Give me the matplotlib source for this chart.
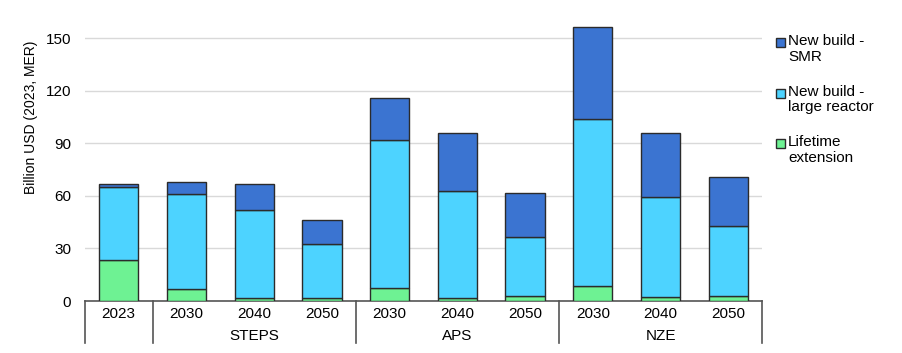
import matplotlib.pyplot as plt
from matplotlib.patches import Rectangle
import numpy as np

plt.rcParams["font.family"] = ["Liberation Sans", "DejaVu Sans"]

# Data
years = ["2023", "2030", "2040", "2050", "2030", "2040", "2050", "2030", "2040", "2050"]
groups = ["STEPS", "APS", "NZE"]
lifetime = [23.5, 7, 2, 1.5, 7.5, 2, 3, 8.5, 2.5, 3]
large_reactor = [41.5, 54, 50, 31, 84.5, 61, 33.5, 95.5, 57, 40]
smr = [1.5, 7, 14.5, 13.5, 24, 33, 25, 52, 36.5, 28]
legend_labels = ["New build -\nSMR", "New build -\nlarge reactor", "Lifetime\nextension"]

# Colours
GREEN = "#6ef293"
CYAN = "#4dd3ff"
BLUE = "#3b74d1"
EDGE = "#2b2b2b"

fig = plt.figure(figsize=(9.03, 3.53), dpi=100)
ax = fig.add_axes([0.094, 0.147, 0.750, 0.795])

x = np.arange(len(years))
w = 0.58
kw = dict(width=w, edgecolor=EDGE, linewidth=1, zorder=3)
ax.bar(x, lifetime, color=GREEN, **kw)
ax.bar(x, large_reactor, bottom=lifetime, color=CYAN, **kw)
bottom2 = np.array(lifetime) + np.array(large_reactor)
ax.bar(x, smr, bottom=bottom2, color=BLUE, **kw)

ax.set_xlim(-0.5, len(years) - 0.5)
ax.set_ylim(0, 160)
ax.set_yticks([0, 30, 60, 90, 120, 150])
ax.yaxis.grid(True, color="#d9d9d9", linewidth=1, zorder=0)
ax.tick_params(axis="y", length=0, labelsize=11, pad=10)
ax.tick_params(axis="x", length=0, labelsize=11, pad=4)
ax.set_xticks(x)
ax.set_xticklabels(years)
for s in ["left", "right", "top"]:
    ax.spines[s].set_visible(False)
ax.spines["bottom"].set_color("#555555")
ax.spines["bottom"].set_linewidth(1.2)
ax.set_ylabel("Billion USD (2023, MER)", fontsize=10)
ax.yaxis.set_label_coords(-0.069, 0.656)

# group separators and labels below the axis
trans = ax.get_xaxis_transform()
for sep in [-0.5, 0.5, 3.5, 6.5, 9.5]:
    ax.plot([sep, sep], [0, -0.15], transform=trans, color="#555555",
            linewidth=1.2, clip_on=False)
for name, centre in zip(groups, [2, 5, 8]):
    ax.text(centre, -0.125, name, transform=trans, ha="center", va="center",
            fontsize=11)

# legend drawn by hand so the swatch sits beside the first line
for i, (label, col) in enumerate(zip(legend_labels, [BLUE, CYAN, GREEN])):
    ytop = 1 - (34 + i * 50.5) / 353
    fig.patches.append(Rectangle((776 / 903, ytop - 13 / 353), 9 / 903, 9 / 353,
                                 transform=fig.transFigure, facecolor=col,
                                 edgecolor=EDGE, linewidth=1))
    fig.text(788 / 903, ytop, label, fontsize=11, va="top", ha="left",
             linespacing=1.15)

fig.savefig("out.png", dpi=100)
